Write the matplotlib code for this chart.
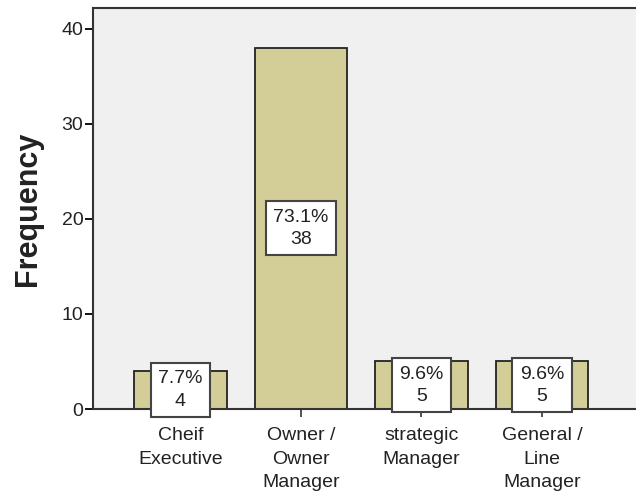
import matplotlib
matplotlib.use("Agg")
import matplotlib.pyplot as plt

categories = ["Cheif\nExecutive", "Owner /\nOwner\nManager", "strategic\nManager", "General /\nLine\nManager"]
counts = [4, 38, 5, 5]
percents = [7.7, 73.1, 9.6, 9.6]
yticks = [0, 10, 20, 30, 40]

plt.rcParams["font.family"] = ["Liberation Sans", "DejaVu Sans"]

fig = plt.figure(figsize=(6.36, 4.95), dpi=100)
ax = fig.add_axes([93 / 636, 1 - 409 / 495, 1 - 93 / 636, (409 - 8) / 495])
ax.set_facecolor("#F0F0F0")

x = list(range(len(categories)))
ax.bar(x, counts, width=0.77, color="#D3CE97", edgecolor="#222222", linewidth=1.3, zorder=2)

for xi, c, p in zip(x, counts, percents):
    ax.text(xi, c / 2, f"{p:.1f}%\n{c}", ha="center", va="center", fontsize=14,
            color="#222222", linespacing=1.4, zorder=4,
            bbox=dict(boxstyle="square,pad=0.38", facecolor="white", edgecolor="#444444", linewidth=1.5))

ax.set_xlim(-0.726, 3.78)
ax.set_ylim(0, 42.2)
ax.set_yticks(yticks)
ax.set_xticks(x)
ax.set_xticklabels(categories, fontsize=14, color="#222222", linespacing=1.5)
ax.tick_params(axis="y", labelsize=14, labelcolor="#222222", length=6, width=1.3, direction="out", pad=1)
ax.tick_params(axis="x", length=6, width=1.3, direction="out", pad=7, color="#444444")

for s in ["left", "top", "bottom"]:
    ax.spines[s].set_linewidth(1.5)
    ax.spines[s].set_color("#333333")
ax.spines["right"].set_visible(False)

ax.set_ylabel("Frequency", fontsize=22, fontweight="bold", color="#222222", labelpad=13)

fig.savefig("out.png", dpi=100, facecolor="white")
